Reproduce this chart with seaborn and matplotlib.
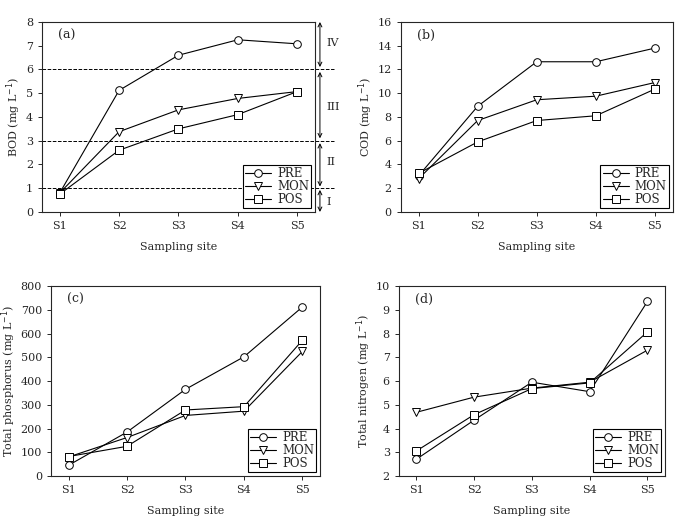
import numpy as np
import pandas as pd
import matplotlib
matplotlib.use("Agg")
import matplotlib.pyplot as plt
import seaborn as sns

sites = ["S1", "S2", "S3", "S4", "S5"]
seasons = ["PRE", "MON", "POS"]

bod_pre = [0.80, 5.12, 6.60, 7.25, 7.08]
bod_mon = [0.80, 3.38, 4.30, 4.78, 5.07]
bod_pos = [0.75, 2.60, 3.50, 4.10, 5.07]

cod_pre = [3.05, 8.90, 12.65, 12.65, 13.80]
cod_mon = [2.80, 7.70, 9.45, 9.75, 10.90]
cod_pos = [3.25, 5.90, 7.70, 8.10, 10.35]

tp_pre = [45, 185, 365, 502, 712]
tp_mon = [80, 162, 255, 273, 525]
tp_pos = [82, 125, 278, 292, 572]

tn_pre = [2.70, 4.35, 5.95, 5.55, 9.35]
tn_mon = [4.68, 5.32, 5.70, 5.95, 7.30]
tn_pos = [3.05, 4.58, 5.68, 5.92, 8.07]

bod_classes = ["IV", "III", "II", "I"]
bod_limits = [1, 3, 6]

sns.set_style("ticks")
plt.rcParams["font.family"] = ["DejaVu Serif"]
plt.rcParams["font.size"] = 8
plt.rcParams["axes.linewidth"] = 0.8


def long_df(pre, mon, pos):
    rows = []
    for s, vals in zip(seasons, [pre, mon, pos]):
        for i, v in enumerate(vals):
            rows.append({"x": i, "value": v, "season": s})
    return pd.DataFrame(rows)


fig = plt.figure(figsize=(6.76, 5.17), dpi=100)
axes = [
    fig.add_axes([0.062, 0.590, 0.404, 0.3675]),
    fig.add_axes([0.593, 0.590, 0.402, 0.3675]),
    fig.add_axes([0.0754, 0.0793, 0.398, 0.3675]),
    fig.add_axes([0.590, 0.0793, 0.3935, 0.3675]),
]

panels = [
    (bod_pre, bod_mon, bod_pos, "BOD (mg L$^{-1}$)", (0, 8), np.arange(0, 9, 1), "(a)"),
    (cod_pre, cod_mon, cod_pos, "COD (mg L$^{-1}$)", (0, 16), np.arange(0, 17, 2), "(b)"),
    (tp_pre, tp_mon, tp_pos, "Total phosphorus (mg L$^{-1}$)", (0, 800), np.arange(0, 801, 100), "(c)"),
    (tn_pre, tn_mon, tn_pos, "Total nitrogen (mg L$^{-1}$)", (2, 10), np.arange(2, 11, 1), "(d)"),
]

for ax, (pre, mon, pos, ylab, ylim, yticks, tag) in zip(axes, panels):
    df = long_df(pre, mon, pos)
    sns.lineplot(data=df, x="x", y="value", hue="season", style="season",
                 hue_order=seasons, style_order=seasons,
                 palette=["black"] * 3, markers={"PRE": "o", "MON": "v", "POS": "s"},
                 dashes=False, markersize=5.5, markerfacecolor="white",
                 markeredgecolor="black", markeredgewidth=0.7, linewidth=0.8, ax=ax)
    ax.set_xlim(-0.3, 4.3)
    ax.set_ylim(*ylim)
    ax.set_xticks(range(5))
    ax.set_xticklabels(sites)
    ax.set_yticks(yticks)
    ax.set_xlabel("Sampling site", fontsize=8, labelpad=8)
    ax.set_ylabel(ylab, fontsize=8, labelpad=2)
    ax.tick_params(direction="out", length=3, width=0.7, labelsize=8)
    ax.text(0.06, 0.91, tag, transform=ax.transAxes, fontsize=9)
    leg = ax.legend(loc="lower right", fontsize=8.5, frameon=True, fancybox=False,
                    borderpad=0.2, labelspacing=0.0, handlelength=2.2,
                    handletextpad=0.5, borderaxespad=0.3)
    leg.get_frame().set_edgecolor("black")
    leg.get_frame().set_linewidth(0.8)
    leg.get_frame().set_alpha(1)

ax = axes[0]
for v in bod_limits:
    ax.axhline(v, color="black", linestyle="--", linewidth=0.7, clip_on=False,
               xmax=1.07)
spans = [(8.0, 6.1), (5.9, 3.1), (2.9, 1.07), (0.93, 0.0)]
mids = [7.1, 4.4, 2.1, 0.4]
for (top, bot), mid, lab in zip(spans, mids, bod_classes):
    ax.annotate("", xy=(1.018, bot), xytext=(1.018, top),
                xycoords=("axes fraction", "data"), textcoords=("axes fraction", "data"),
                arrowprops=dict(arrowstyle="<->", color="black", lw=0.7,
                                shrinkA=0, shrinkB=0, mutation_scale=7),
                annotation_clip=False)
    ax.text(1.04, mid, lab, transform=ax.get_yaxis_transform(), fontsize=8,
            va="center", ha="left")

fig.savefig("out.png", dpi=100)
